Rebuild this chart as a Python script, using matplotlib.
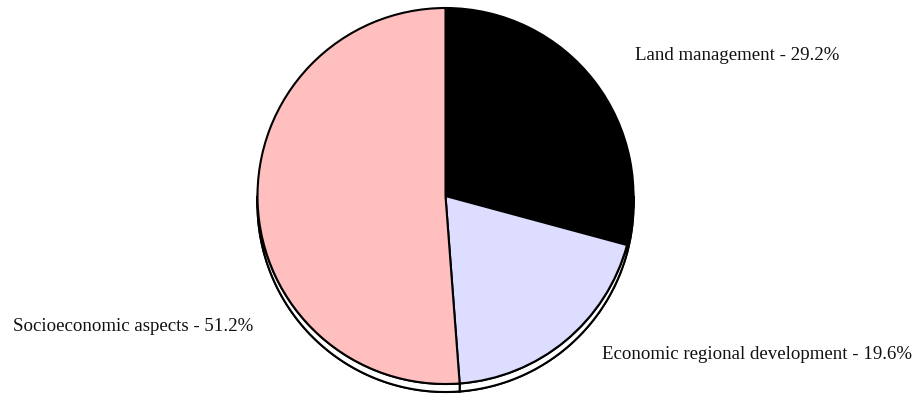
import numpy as np
import matplotlib
matplotlib.use("Agg")
import matplotlib.pyplot as plt
from matplotlib.patches import Wedge, Polygon

# data
labels = ["Land management", "Economic regional development", "Socioeconomic aspects"]
shares = [29.2, 19.6, 51.2]
colors = ["#000000", "#DDDDFF", "#FFBFBF"]

# layout (pixels -> data units, radius = 1)
W, H = 921, 398
R_PX = 188.0
CX, CY = 445.5, 196.0          # pie centre, pixels from top-left
DEPTH = 8.0 / R_PX             # thickness of the pie rim

def px(x, y):
    return (x - CX) / R_PX, (CY - y) / R_PX

plt.rcParams["font.family"] = ["Liberation Serif", "DejaVu Serif"]

fig = plt.figure(figsize=(W / 100, H / 100), dpi=100)
ax = fig.add_axes([0, 0, 1, 1])

# slice angles, clockwise from 12 o'clock
fracs = np.array(shares) / sum(shares)
bounds = 90 - 360 * np.concatenate([[0], np.cumsum(fracs)])

# rim: bottom disc + side walls on the lower half
for i in range(len(shares)):
    a1, a0 = bounds[i + 1], bounds[i]
    ax.add_patch(Wedge((0, -DEPTH), 1, a1, a0, facecolor="white",
                       edgecolor="black", lw=1.5, zorder=1))
    lo, hi = a1 % 360, a0 % 360
    if hi <= lo:
        hi += 360
    segs = []
    for s, e in [(max(lo, 180), min(hi, 360)), (max(lo, 540), min(hi, 720))]:
        if e > s:
            segs.append((s, e))
    for s, e in segs:
        t = np.radians(np.linspace(s, e, 100))
        top = np.column_stack([np.cos(t), np.sin(t)])
        bot = top[::-1] - [0, DEPTH]
        ax.add_patch(Polygon(np.vstack([top, bot]), closed=True,
                             facecolor="white", edgecolor="black",
                             lw=1.5, zorder=2))

# top face
wedges, _ = ax.pie(shares, colors=colors, startangle=90, counterclock=False,
                   radius=1, center=(0, 0), frame=True,
                   wedgeprops=dict(edgecolor="black", linewidth=1.5))
for w in wedges:
    w.set_zorder(3)
ax.set_xlim(-CX / R_PX, (W - CX) / R_PX)
ax.set_ylim((CY - H) / R_PX, CY / R_PX)
ax.set_aspect("auto")
ax.axis("off")

# labels
label_pos = [(635, 60), (602, 359), (13, 331)]
for lab, val, (x, y) in zip(labels, shares, label_pos):
    tx, ty = px(x, y)
    ax.text(tx, ty, f"{lab} - {val:.1f}%", fontsize=13.6, ha="left",
            va="baseline", color="#111111")

fig.savefig("out.png", dpi=100)
